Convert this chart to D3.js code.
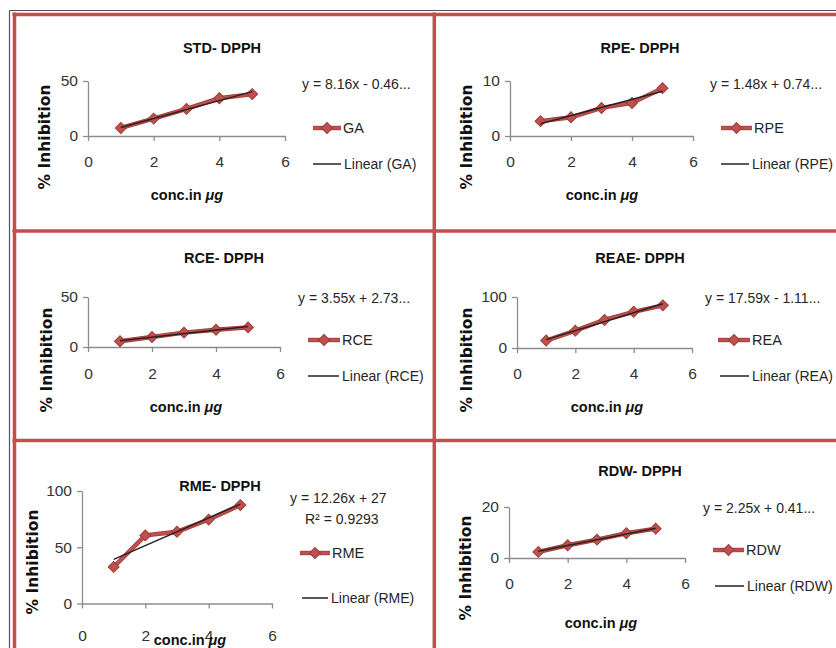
<!DOCTYPE html>
<html>
<head>
<meta charset="utf-8">
<script src="https://cdn.jsdelivr.net/npm/d3@7"></script>
<style>
    body { margin: 0; background: #fff; }
    svg text { font-family: "Liberation Sans", Arial, sans-serif; fill: #262626; }
</style>
</head>
<body>
<svg id="chart" width="836" height="648"></svg>
<script>
// x values (conc. in µg) shared by all six panels
const concentrations = [1, 2, 3, 4, 5];
const xTickValues = [0, 2, 4, 6];

const panelTitles = ["STD- DPPH", "RPE- DPPH", "RCE- DPPH", "REAE- DPPH", "RME- DPPH", "RDW- DPPH"];
const seriesNames = ["GA", "RPE", "RCE", "REA", "RME", "RDW"];

// % inhibition
const gaValues = [7.3, 15.8, 24.6, 34.3, 38.1];
const rpeValues = [2.7, 3.4, 5.1, 6.0, 8.7];
const rceValues = [5.8, 10.0, 14.4, 17.2, 19.6];
const reaValues = [14.6, 34.0, 55.0, 71.0, 83.7];
const rmeValues = [32.5, 60.5, 63.8, 74.6, 87.5];
const rdwValues = [2.4, 5.0, 7.2, 9.7, 11.5];

const yTickValues = [[0, 50], [0, 10], [0, 50], [0, 100], [0, 50, 100], [0, 20]];

// linear trendlines as printed on the chart
const trendSlopes = [8.16, 1.48, 3.55, 17.59, 12.26, 2.25];
const trendIntercepts = [-0.46, 0.74, 2.73, -1.11, 27, 0.41];
const equationLabels = ["y = 8.16x - 0.46...", "y = 1.48x + 0.74...", "y = 3.55x + 2.73...",
    "y = 17.59x - 1.11...", "y = 12.26x + 27", "y = 2.25x + 0.41..."];
const rSquaredLabels = [null, null, null, null, "R\u00B2 = 0.9293", null];

const allValues = [gaValues, rpeValues, rceValues, reaValues, rmeValues, rdwValues];

// where each panel sits on the page
const layout = [
    { x0: 88, x1: 285, yBase: 136, yTop: 81, title: [222, 48], eq: [302, 84], leg1: [313, 341, 128], leg2: [313, 341, 164], xPad: 15, xTitle: [187, 195], yTitle: [45, 137] },
    { x0: 510, x1: 693, yBase: 136, yTop: 81, title: [640, 48], eq: [710, 84], leg1: [721, 752, 128], leg2: [721, 749, 164], xPad: 15, xTitle: [602, 195], yTitle: [467, 137] },
    { x0: 88, x1: 280, yBase: 347, yTop: 297, title: [224, 258], eq: [298, 298], leg1: [308, 340, 340], leg2: [308, 339, 376], xPad: 16, xTitle: [186, 407], yTitle: [47, 360] },
    { x0: 517, x1: 692, yBase: 348, yTop: 297, title: [640, 258], eq: [705, 298], leg1: [718, 750, 340], leg2: [720, 749, 376], xPad: 15, xTitle: [607, 407], yTitle: [467, 360] },
    { x0: 82, x1: 272, yBase: 603.5, yTop: 491, title: [220, 486], eq: [290, 498], r2: [305, 519], leg1: [300, 330, 553], leg2: [302, 328, 598], xPad: 21, xTitle: [190, 640], yTitle: [33, 562] },
    { x0: 509, x1: 685, yBase: 558, yTop: 507, title: [640, 471], eq: [703, 508], leg1: [713, 744, 550], leg2: [715, 744, 586], xPad: 15, xTitle: [601, 623], yTitle: [466, 568] }
];

const seriesColor = '#c0504d';
const seriesEdge = '#9e3d3a';
const trendColor = '#2a2020';
const axisColor = '#8c8c8c';

let svg = d3.select('#chart');

// panel frame
svg.append('line').attr('x1', 9.5).attr('x2', 836).attr('y1', 10.5).attr('y2', 10.5)
    .attr('stroke', '#555').attr('stroke-width', 1.2);
svg.append('line').attr('x1', 9.5).attr('x2', 9.5).attr('y1', 10.5).attr('y2', 648)
    .attr('stroke', '#555').attr('stroke-width', 1.2);
let frame = svg.append('g').attr('stroke', seriesColor).attr('stroke-width', 3.5);
frame.append('line').attr('x1', 12.5).attr('x2', 836).attr('y1', 14.5).attr('y2', 14.5);
frame.append('line').attr('x1', 14.5).attr('x2', 14.5).attr('y1', 12.5).attr('y2', 648);
frame.append('line').attr('x1', 434.3).attr('x2', 434.3).attr('y1', 12.5).attr('y2', 648);
frame.append('line').attr('x1', 12.5).attr('x2', 836).attr('y1', 231).attr('y2', 231);
frame.append('line').attr('x1', 12.5).attr('x2', 836).attr('y1', 440.5).attr('y2', 440.5);

const diamond = d3.symbol().type(d3.symbolSquare).size(60);

layout.forEach((L, p) => {
    let values = allValues[p];
    let ticks = yTickValues[p];
    let g = svg.append('g');

    let xScale = d3.scaleLinear().domain([0, 6]).range([L.x0, L.x1]);
    let yScale = d3.scaleLinear().domain([0, d3.max(ticks)]).range([L.yBase, L.yTop]);

    // axes
    let xAxis = g.append('g')
        .attr('transform', `translate(0, ${L.yBase})`)
        .call(d3.axisBottom(xScale).tickValues(xTickValues).tickFormat(d3.format('d'))
            .tickSize(5).tickSizeOuter(0).tickPadding(L.xPad));
    let yAxis = g.append('g')
        .attr('transform', `translate(${L.x0}, 0)`)
        .call(d3.axisLeft(yScale).tickValues(ticks).tickFormat(d3.format('d'))
            .tickSize(5).tickSizeOuter(0).tickPadding(5));
    [xAxis, yAxis].forEach(a => {
        a.selectAll('path, line').attr('stroke', axisColor).attr('stroke-width', 1.3);
        a.selectAll('text').style('font-size', '15.5px').style('fill', '#333')
            .style('font-family', '"Liberation Sans", Arial, sans-serif');
    });

    // data series
    let line = d3.line().x((d, i) => xScale(concentrations[i])).y(d => yScale(d));
    g.append('path').datum(values).attr('d', line)
        .attr('fill', 'none').attr('stroke', seriesEdge).attr('stroke-width', 4.4);
    g.append('path').datum(values).attr('d', line)
        .attr('fill', 'none').attr('stroke', seriesColor).attr('stroke-width', 2.8);
    g.selectAll('.marker').data(values).enter().append('path')
        .attr('d', diamond)
        .attr('transform', (d, i) => `translate(${xScale(concentrations[i])}, ${yScale(d)}) rotate(45)`)
        .attr('fill', seriesColor).attr('stroke', seriesEdge).attr('stroke-width', 1);

    // trendline over the data range
    let xEnds = d3.extent(concentrations);
    let trend = d3.line().x(d => xScale(d)).y(d => yScale(trendSlopes[p] * d + trendIntercepts[p]));
    g.append('path').datum(xEnds).attr('d', trend)
        .attr('fill', 'none').attr('stroke', trendColor).attr('stroke-width', 1.5);

    // titles
    g.append('text').attr('x', L.title[0]).attr('y', L.title[1]).attr('dy', '0.35em')
        .attr('text-anchor', 'middle').style('font-size', '14.5px').style('font-weight', 'bold')
        .style('fill', '#111').text(panelTitles[p]);
    let xt = g.append('text').attr('x', L.xTitle[0]).attr('y', L.xTitle[1]).attr('dy', '0.35em')
        .attr('text-anchor', 'middle').style('font-size', '14.5px').style('font-weight', 'bold')
        .style('fill', '#111');
    xt.append('tspan').text('conc.in ');
    xt.append('tspan').style('font-style', 'italic').text('\u03BCg');
    g.append('text')
        .attr('transform', `translate(${L.yTitle[0]}, ${L.yTitle[1]}) rotate(-90)`)
        .attr('dy', '0.35em').attr('text-anchor', 'middle')
        .style('font-family', '"DejaVu Sans", Verdana, sans-serif')
        .style('font-size', '15.5px').style('font-weight', 'bold').style('fill', '#111')
        .text('% Inhibition');

    // equation label
    g.append('text').attr('x', L.eq[0]).attr('y', L.eq[1]).attr('dy', '0.35em')
        .style('font-size', '14px').text(equationLabels[p]);
    if (rSquaredLabels[p]) {
        g.append('text').attr('x', L.r2[0]).attr('y', L.r2[1]).attr('dy', '0.35em')
            .style('font-size', '14px').text(rSquaredLabels[p]);
    }

    // legend
    let [la, lb, ly] = L.leg1;
    g.append('line').attr('x1', la).attr('x2', lb).attr('y1', ly).attr('y2', ly)
        .attr('stroke', seriesEdge).attr('stroke-width', 4.4);
    g.append('line').attr('x1', la).attr('x2', lb).attr('y1', ly).attr('y2', ly)
        .attr('stroke', seriesColor).attr('stroke-width', 2.8);
    g.append('path').attr('d', diamond)
        .attr('transform', `translate(${(la + lb) / 2}, ${ly}) rotate(45)`)
        .attr('fill', seriesColor).attr('stroke', seriesEdge).attr('stroke-width', 1);
    g.append('text').attr('x', lb + 2).attr('y', ly).attr('dy', '0.35em')
        .style('font-size', '14.5px').text(seriesNames[p]);

    let [ma, mb, my] = L.leg2;
    g.append('line').attr('x1', ma).attr('x2', mb).attr('y1', my).attr('y2', my)
        .attr('stroke', trendColor).attr('stroke-width', 1.5);
    g.append('text').attr('x', mb + 3).attr('y', my).attr('dy', '0.35em')
        .style('font-size', '14px').text(`Linear (${seriesNames[p]})`);
});
</script>
</body>
</html>
